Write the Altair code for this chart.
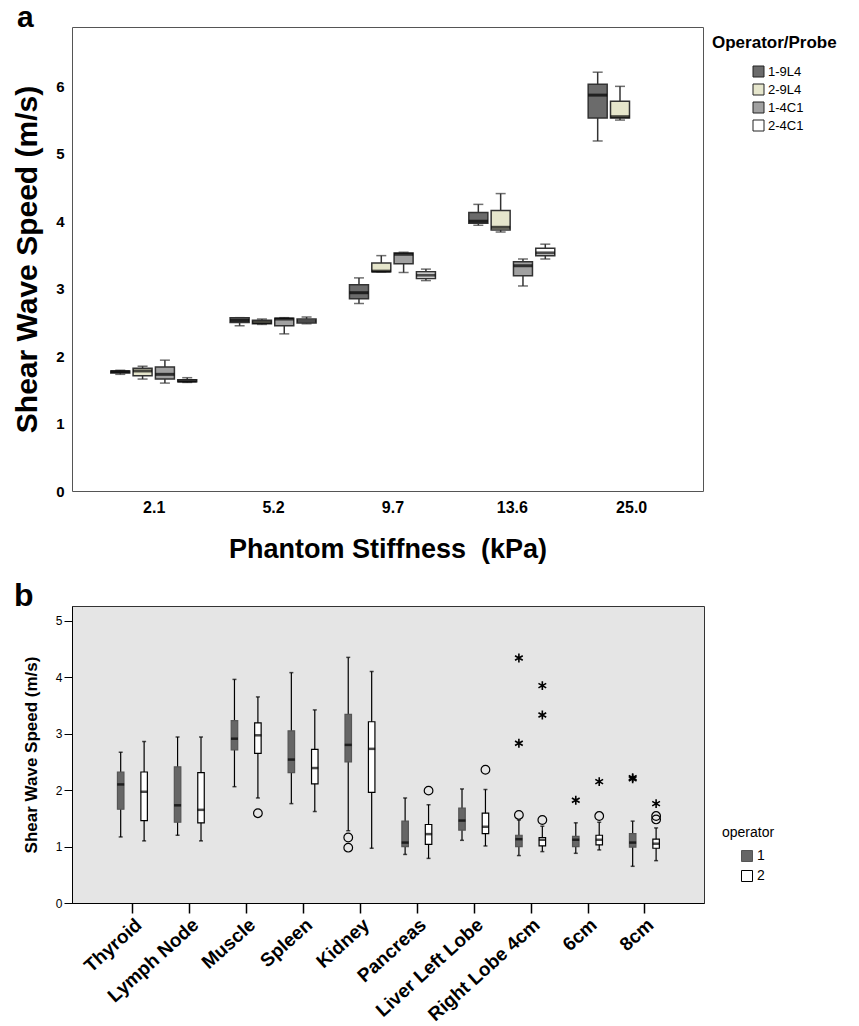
import altair as alt
import pandas as pd

FONT = "Liberation Sans"

# ---------------- Panel a data ----------------
stiffness = ["2.1", "5.2", "9.7", "13.6", "25.0"]
probes = ["1-9L4", "2-9L4", "1-4C1", "2-4C1"]
probe_colors = ["#6b6b6b", "#e6e6cc", "#a1a1a1", "#ffffff"]

a_stiff = ["2.1"] * 4 + ["5.2"] * 4 + ["9.7"] * 4 + ["13.6"] * 4 + ["25.0"] * 2
a_probe = probes * 4 + probes[:2]
a_lo = [1.73, 1.66, 1.60, 1.61, 2.45, 2.47, 2.33, 2.48, 2.78, 3.25, 3.24, 3.12,
        3.94, 3.84, 3.04, 3.44, 5.19, 5.50]
a_q1 = [1.75, 1.71, 1.66, 1.62, 2.50, 2.48, 2.45, 2.49, 2.85, 3.25, 3.37, 3.15,
        3.97, 3.87, 3.19, 3.49, 5.53, 5.53]
a_med = [1.77, 1.78, 1.73, 1.63, 2.53, 2.50, 2.55, 2.52, 2.94, 3.26, 3.51, 3.20,
         4.00, 3.91, 3.34, 3.53, 5.87, 5.55]
a_q3 = [1.78, 1.82, 1.84, 1.65, 2.57, 2.53, 2.56, 2.55, 3.06, 3.38, 3.53, 3.25,
        4.13, 4.16, 3.40, 3.60, 6.03, 5.78]
a_hi = [1.79, 1.85, 1.94, 1.68, 2.57, 2.55, 2.57, 2.58, 3.16, 3.49, 3.54, 3.29,
        4.25, 4.41, 3.44, 3.66, 6.21, 6.00]

# ---------------- Panel b data ----------------
organs = ["Thyroid", "Lymph Node", "Muscle", "Spleen", "Kidney", "Pancreas",
          "Liver Left Lobe", "Right Lobe 4cm", "6cm", "8cm"]
operators = ["1", "2"]
op_colors = ["#666666", "#ffffff"]
op_strokes = ["#555555", "#000000"]

b_organ = [o for o in organs for _ in operators]
b_op = operators * len(organs)
b_lo = [1.17, 1.10, 1.20, 1.10, 2.06, 1.86, 1.76, 1.62, 1.28, 0.97,
        0.86, 0.79, 1.11, 1.01, 0.84, 0.91, 0.88, 0.94, 0.65, 0.75]
b_q1 = [1.66, 1.46, 1.43, 1.42, 2.71, 2.65, 2.31, 2.11, 2.50, 1.96,
        1.00, 1.04, 1.29, 1.23, 1.00, 1.01, 1.00, 1.03, 0.99, 0.97]
b_med = [2.10, 1.97, 1.73, 1.65, 2.91, 2.97, 2.54, 2.39, 2.80, 2.73,
         1.07, 1.22, 1.46, 1.35, 1.13, 1.12, 1.12, 1.12, 1.07, 1.05]
b_q3 = [2.32, 2.32, 2.41, 2.31, 3.23, 3.19, 3.05, 2.72, 3.34, 3.21,
        1.45, 1.39, 1.68, 1.59, 1.20, 1.16, 1.18, 1.20, 1.23, 1.13]
b_hi = [2.67, 2.86, 2.94, 2.94, 3.96, 3.65, 4.08, 3.42, 4.35, 4.10,
        1.86, 1.74, 2.02, 2.01, 1.47, 1.36, 1.42, 1.43, 1.45, 1.33]

out_organ = ["Muscle", "Kidney", "Kidney", "Pancreas", "Liver Left Lobe",
             "Right Lobe 4cm", "Right Lobe 4cm", "Right Lobe 4cm",
             "Right Lobe 4cm", "Right Lobe 4cm", "Right Lobe 4cm",
             "6cm", "6cm", "6cm", "8cm", "8cm", "8cm", "8cm", "8cm"]
out_op = ["2", "1", "1", "2", "2", "1", "1", "1", "2", "2", "2",
          "1", "2", "2", "1", "1", "2", "2", "2"]
out_val = [1.59, 1.16, 0.98, 1.99, 2.36, 4.34, 2.83, 1.56, 3.85, 3.33, 1.47,
           1.82, 2.15, 1.54, 2.22, 2.20, 1.76, 1.54, 1.48]
out_kind = ["circle", "circle", "circle", "circle", "circle", "star", "star",
            "circle", "star", "star", "circle", "star", "star", "circle",
            "star", "star", "star", "circle", "circle"]

STAR = "M0,-1L0,1M-0.866,-0.5L0.866,0.5M-0.866,0.5L0.866,-0.5"


def js_list(items):
    return "[" + ",".join("'" + s + "'" for s in items) + "]"


# ================= Panel a =================
dfa = pd.DataFrame(dict(stiffness=a_stiff, probe=a_probe, lo=a_lo, q1=a_q1,
                        med=a_med, q3=a_q3, hi=a_hi))

# dodge: group index plus a per-probe slot offset (in group-step units)
pos_a = (f"indexof({js_list(stiffness)}, datum.stiffness) + "
         f"(indexof({js_list(probes)}, datum.probe) - 1.5) * 0.187")

xsa = alt.Scale(domain=[-0.643, 4.56], nice=False, zero=False)
xaxa = alt.Axis(title="Phantom Stiffness\u00a0 (kPa)", values=[0, 1, 2, 3, 4],
                labelExpr=f"{js_list(stiffness)}[datum.value]",
                labelAngle=0, ticks=False, domain=False, grid=False,
                labelOverlap=False,
                labelFontSize=16, labelFontWeight="bold", labelPadding=8,
                titleFontSize=27, titleFontWeight="bold", titlePadding=21,
                labelColor="black", titleColor="black")
xa = alt.X("xpos:Q", scale=xsa, axis=xaxa)
ysa = alt.Scale(domain=[0, 6.88], nice=False, zero=True)
yaxa = alt.Axis(title="Shear Wave Speed (m/s)", values=[0, 1, 2, 3, 4, 5, 6],
                ticks=False, domain=False, grid=False, labelFontSize=15,
                labelFontWeight="bold", labelPadding=8, titleFontSize=30,
                titleFontWeight="bold", titlePadding=13, labelColor="black",
                titleColor="black")

base_a = alt.Chart(dfa).transform_calculate(xpos=pos_a)
whisk_a = base_a.mark_rule(color="#333333", strokeWidth=1.5).encode(
    x=xa, y=alt.Y("lo:Q", scale=ysa, axis=yaxa), y2="hi:Q")
cap_lo_a = base_a.mark_tick(color="#333333", thickness=1.5, size=10,
                            orient="horizontal").encode(
    x=xa, y=alt.Y("lo:Q", scale=ysa, axis=yaxa))
cap_hi_a = base_a.mark_tick(color="#333333", thickness=1.5, size=10,
                            orient="horizontal").encode(
    x=xa, y=alt.Y("hi:Q", scale=ysa, axis=yaxa))
box_a = base_a.mark_bar(stroke="#333333", strokeWidth=1.5, width=19).encode(
    x=xa, y=alt.Y("q1:Q", scale=ysa, axis=yaxa), y2="q3:Q",
    fill=alt.Fill("probe:N", sort=probes,
                  scale=alt.Scale(domain=probes, range=probe_colors),
                  legend=alt.Legend(title=None, orient="none", legendX=680,
                                    legendY=38, symbolType="square",
                                    symbolSize=121, symbolStrokeColor="#222222",
                                    symbolStrokeWidth=1, labelFontSize=13,
                                    labelColor="black", rowPadding=3,
                                    labelOffset=3, padding=0)))
med_a = base_a.mark_tick(color="black", thickness=3, size=19,
                         orient="horizontal").encode(
    x=xa, y=alt.Y("med:Q", scale=ysa, axis=yaxa))

leg_title_a = alt.Chart(pd.DataFrame({"t": ["Operator/Probe"]})).mark_text(
    align="left", baseline="middle", fontSize=17, fontWeight="bold", color="black"
).encode(text="t:N", x=alt.value(640), y=alt.value(16))
tag_a = alt.Chart(pd.DataFrame({"t": ["a"]})).mark_text(
    align="left", baseline="alphabetic", fontSize=30, fontWeight="bold", color="black"
).encode(text="t:N", x=alt.value(-55), y=alt.value(0))

chart_a = alt.layer(whisk_a, cap_lo_a, cap_hi_a, box_a, med_a, leg_title_a, tag_a).properties(
    width=631, height=464,
    view=alt.ViewBackground(fill="white", stroke="#555555", strokeWidth=1))

# ================= Panel b =================
dfb = pd.DataFrame(dict(organ=b_organ, op=b_op, lo=b_lo, q1=b_q1, med=b_med,
                        q3=b_q3, hi=b_hi))
dfo = pd.DataFrame(dict(organ=out_organ, op=out_op, val=out_val, kind=out_kind))

pos_b = (f"indexof({js_list(organs)}, datum.organ) + "
         f"(datum.op == '1' ? -0.206 : 0.206)")

xsb = alt.Scale(domain=[-0.974, 9.96], nice=False, zero=False)
xaxb = alt.Axis(title=None, values=list(range(10)),
                labelExpr=f"{js_list(organs)}[datum.value]",
                labelOverlap=False, labelBound=False, labelFlush=False,
                labelAngle=-42, labelAlign="right", labelBaseline="top",
                labelFontSize=19, labelFontWeight="bold", labelColor="black",
                tickSize=10, tickColor="black", tickWidth=1.5, grid=False,
                domainColor="black", labelPadding=2)
xb = alt.X("xpos:Q", scale=xsb, axis=xaxb)
ysb = alt.Scale(domain=[0, 5.26], nice=False, zero=True)
yaxb = alt.Axis(title="Shear Wave Speed (m/s)", values=[0, 1, 2, 3, 4, 5],
                grid=False, tickSize=8, tickColor="black", domainColor="black",
                labelFontSize=12, labelColor="black", labelPadding=2,
                titleFontSize=17, titleFontWeight="bold", titleColor="black",
                titlePadding=15)

base_b = alt.Chart(dfb).transform_calculate(xpos=pos_b)
whisk_b = base_b.mark_rule(color="black", strokeWidth=1.2).encode(
    x=xb, y=alt.Y("lo:Q", scale=ysb, axis=yaxb), y2="hi:Q")
cap_lo_b = base_b.mark_tick(color="black", thickness=1.5, size=4,
                            orient="horizontal").encode(
    x=xb, y=alt.Y("lo:Q", scale=ysb, axis=yaxb))
cap_hi_b = base_b.mark_tick(color="black", thickness=1.5, size=4,
                            orient="horizontal").encode(
    x=xb, y=alt.Y("hi:Q", scale=ysb, axis=yaxb))
box_b = base_b.mark_bar(strokeWidth=1.2, width=6.5).encode(
    x=xb, y=alt.Y("q1:Q", scale=ysb, axis=yaxb), y2="q3:Q",
    fill=alt.Fill("op:N", sort=operators,
                  scale=alt.Scale(domain=operators, range=op_colors),
                  legend=alt.Legend(title=None, orient="none", legendX=668,
                                    legendY=243, symbolType="square",
                                    symbolSize=121, symbolStrokeColor="#333333",
                                    symbolStrokeWidth=1, labelFontSize=14,
                                    labelColor="black", rowPadding=4,
                                    labelOffset=3, padding=0)),
    stroke=alt.Stroke("op:N", sort=operators,
                      scale=alt.Scale(domain=operators, range=op_strokes),
                      legend=None))
med_b = base_b.mark_tick(color="black", thickness=2.5, size=7,
                         orient="horizontal").encode(
    x=xb, y=alt.Y("med:Q", scale=ysb, axis=yaxb))

base_o = alt.Chart(dfo).transform_calculate(xpos=pos_b)
circ_b = base_o.transform_filter(alt.datum.kind == "circle").mark_point(
    shape="circle", filled=False, color="black", size=75, strokeWidth=1.2,
    opacity=1
).encode(x=xb, y=alt.Y("val:Q", scale=ysb, axis=yaxb))
star_b = base_o.transform_filter(alt.datum.kind == "star").mark_point(
    shape=STAR, filled=False, color="black", size=80, strokeWidth=1.6,
    opacity=1
).encode(x=xb, y=alt.Y("val:Q", scale=ysb, axis=yaxb))

leg_title_b = alt.Chart(pd.DataFrame({"t": ["operator"]})).mark_text(
    align="left", baseline="middle", fontSize=14, color="black"
).encode(text="t:N", x=alt.value(650), y=alt.value(227))
tag_b = alt.Chart(pd.DataFrame({"t": ["b"]})).mark_text(
    align="left", baseline="alphabetic", fontSize=32, fontWeight="bold", color="black"
).encode(text="t:N", x=alt.value(-58), y=alt.value(0))

chart_b = alt.layer(whisk_b, cap_lo_b, cap_hi_b, box_b, med_b, circ_b, star_b,
                    leg_title_b, tag_b).properties(
    width=632, height=297,
    view=alt.ViewBackground(fill="#e5e5e5", stroke="#333333", strokeWidth=1))

chart = alt.vconcat(chart_a, chart_b, spacing=16).resolve_scale(
    fill="independent", stroke="independent"
).resolve_legend(fill="independent", stroke="independent").properties(
    padding={"top": -6, "left": 4, "right": 5, "bottom": 2}
).configure(font=FONT)

chart.save("out.html", embed_options={"renderer": "svg", "actions": False})
